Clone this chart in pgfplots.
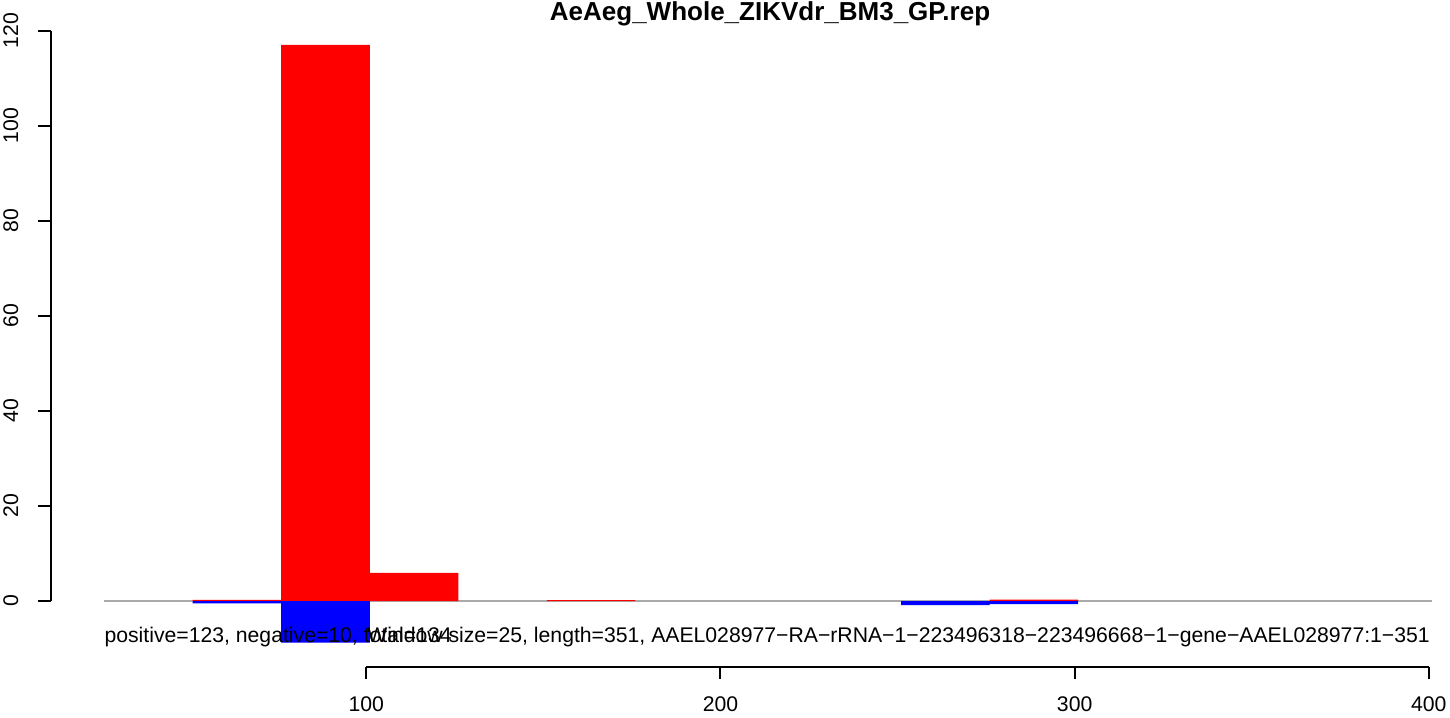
\documentclass[border=0pt]{standalone}
\usepackage{fontspec}
\setmainfont{Liberation Sans}
\usepackage{pgfplots}
\pgfplotsset{compat=1.18}
\definecolor{rred}{RGB}{255,0,0}
\definecolor{rblue}{RGB}{0,0,255}
\definecolor{rgray}{RGB}{170,170,170}
\tikzset{rtext/.style={font=\fontsize{10.6}{12.7}\selectfont, inner sep=0pt}}
\begin{document}
\begin{tikzpicture}
\begin{axis}[
  at={(25.5pt,25.15pt)}, anchor=south west,
  scale only axis, width=697.77pt, height=333.35pt,
  xmin=11, xmax=405, ymin=-13.82, ymax=126.46,
  hide axis, clip=false,
]
% baseline
\addplot[rgray, line width=1pt, mark=none] coordinates {(26,0) (401,0)};
% positive (red)
\addplot[ybar, bar width=25, bar shift=0pt, fill=rred, draw=none] coordinates {
  (63.5,0.25) (88.5,117) (113.5,5.9) (163.5,0.2) (288.5,0.3)};
% negative (blue)
\addplot[ybar, bar width=25, bar shift=0pt, fill=rblue, draw=none] coordinates {
  (63.5,-0.5) (88.5,-8.77) (263.5,-0.85) (288.5,-0.65)};
% y axis
\draw[line width=1pt] (axis cs:11,0) -- (axis cs:11,120);
\pgfplotsinvokeforeach{0,20,40,60,80,100,120}{
  \draw[line width=1pt] (axis cs:11,#1) -- ([xshift=-6.5pt]axis cs:11,#1);
  \node[rtext, rotate=90, anchor=base] at ([xshift=-16.5pt]axis cs:11,#1) {#1};
}
% x axis
\draw[line width=1pt] (axis cs:100,-13.82) -- (axis cs:400,-13.82);
\pgfplotsinvokeforeach{100,200,300,400}{
  \draw[line width=1pt] (axis cs:#1,-13.82) -- ([yshift=-6pt]axis cs:#1,-13.82);
  \node[rtext, anchor=base] at ([yshift=-22.5pt]axis cs:#1,-13.82) {#1};
}
% texts
\node[rtext, anchor=base west] at (axis cs:26,-8.73) {positive=123, negative=10, total=134};
\node[rtext, anchor=base] at (axis cs:250.3,-8.73) {Window size=25, length=351, AAEL028977−RA−rRNA−1−223496318−223496668−1−gene−AAEL028977:1−351};
\node[inner sep=0pt, anchor=base, font=\bfseries\fontsize{13}{15}\selectfont] at (axis cs:214,122.04) {AeAeg\_Whole\_ZIKVdr\_BM3\_GP.rep};
\end{axis}
\pgfresetboundingbox
\path (0,0) rectangle (725pt,358.5pt);
\end{tikzpicture}
\end{document}
